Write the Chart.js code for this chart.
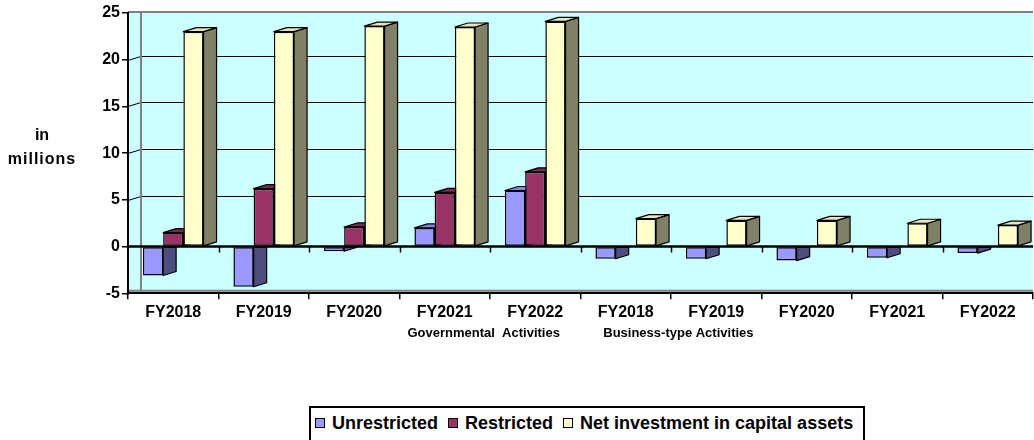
<!DOCTYPE html>
<html>
<head>
<meta charset="utf-8">
<script src="https://cdn.jsdelivr.net/npm/chart.js@4.4.1/dist/chart.umd.min.js"></script>
<style>
  html, body { margin: 0; padding: 0; background: #fff; }
  #wrap { position: relative; width: 1034px; height: 440px; overflow: hidden; font-family: "Liberation Sans", Arial, sans-serif; }
  #chart { position: absolute; left: 0; top: 0; }
  #legend { position: absolute; left: 309px; top: 406px; width: 556px; height: 50px; box-sizing: border-box;
            border: 2px solid #000; background: #fff; display: flex; align-items: flex-start; }
  .item { display: flex; align-items: center; height: 30px; margin-left: 4px; margin-right: 6px; }
  .sw { width: 10px; height: 10px; box-sizing: border-box; border: 1.5px solid #000; margin-right: 7px; }
  .lbl { font-weight: bold; font-size: 18px; color: #000; white-space: nowrap; }
</style>
</head>
<body>
<div id="wrap">
  <canvas id="chart" width="1034" height="440"></canvas>
  <div id="legend"></div>
</div>
<script>
// ---- data ----
const categories = ['FY2018','FY2019','FY2020','FY2021','FY2022','FY2018','FY2019','FY2020','FY2021','FY2022'];
const unrestricted = [-3.1, -4.3, -0.5, 2.0, 6.0, -1.3, -1.3, -1.5, -1.2, -0.7];
const restricted = [1.5, 6.2, 2.1, 5.8, 8.0, 0, 0, 0, 0, 0];
const netInvestment = [23.0, 23.0, 23.6, 23.5, 24.1, 3.0, 2.8, 2.8, 2.5, 2.3];
const seriesNames = ['Unrestricted', 'Restricted', 'Net investment in capital assets'];
const yTicks = [-5, 0, 5, 10, 15, 20, 25];
const groupTitle = 'Governmental  Activities            Business-type Activities';
const yTitleLines = ['in', 'millions'];

// ---- styles ----
const FONT = '"Liberation Sans", Arial, sans-serif';
const frontColors = ['#9999FF', '#993366', '#FFFFCC'];
const sideColors = ['#4D4D80', '#4D1A33', '#808066'];
const topColors = ['#8585E0', '#7A2952', '#E6E6BC'];
const DX = 13, DY = 4;

const seriesValues = [unrestricted, restricted, netInvestment];

const wallPlugin = {
  id: 'wall3d',
  beforeDraw(chart) {
    const { ctx, chartArea: a, scales: { y } } = chart;
    ctx.save();
    ctx.fillStyle = '#CCFFFF';
    ctx.fillRect(a.left, a.top - 2, a.right - a.left, a.bottom - a.top + 2);
    // back-wall grid lines
    ctx.strokeStyle = '#000';
    ctx.lineWidth = 1;
    y.ticks.forEach(t => {
      if (t.value <= y.min || t.value >= y.max || t.value === 0) return;
      const py = Math.round(y.getPixelForValue(t.value)) + 0.5;
      ctx.beginPath();
      ctx.moveTo(a.left, py);
      ctx.lineTo(a.left + DX, py - DY);
      ctx.lineTo(a.right, py - DY);
      ctx.stroke();
    });
    // wall outline
    ctx.strokeStyle = '#808080';
    ctx.lineWidth = 2;
    ctx.beginPath();
    ctx.moveTo(a.left, a.top - 1);
    ctx.lineTo(a.right, a.top - 1);
    ctx.moveTo(a.left + DX, a.top - 1);
    ctx.lineTo(a.left + DX, a.bottom - 2);
    ctx.moveTo(a.left, a.bottom - 2.5);
    ctx.lineTo(a.right, a.bottom - 2.5);
    ctx.stroke();
    ctx.restore();
  },
  beforeDatasetsDraw(chart) {
    const { ctx } = chart;
    ctx.save();
    ctx.lineWidth = 1.2;
    ctx.strokeStyle = '#000';
    ctx.lineJoin = 'round';
    chart.data.datasets.forEach((ds, di) => {
      const meta = chart.getDatasetMeta(di);
      meta.data.forEach((el, i) => {
        const v = ds.data[i];
        if (Math.abs(v) < 1e-9) return;
        const p = el.getProps(['x', 'y', 'base', 'width'], true);
        const left = p.x - p.width / 2, right = p.x + p.width / 2;
        const top = Math.min(p.y, p.base), bottom = Math.max(p.y, p.base);
        // side face
        ctx.fillStyle = sideColors[di];
        ctx.beginPath();
        if (v > 0) {
          ctx.moveTo(right, top);
          ctx.lineTo(right + DX, top - DY);
          ctx.lineTo(right + DX, bottom - DY);
          ctx.lineTo(right, bottom);
        } else {
          ctx.moveTo(right, top);
          ctx.lineTo(right + DX, top);
          ctx.lineTo(right + DX, bottom - DY);
          ctx.lineTo(right, bottom);
        }
        ctx.closePath();
        ctx.fill();
        ctx.stroke();
        // top face
        if (v > 0) {
          ctx.fillStyle = topColors[di];
          ctx.beginPath();
          ctx.moveTo(left, top);
          ctx.lineTo(left + DX, top - DY);
          ctx.lineTo(right + DX, top - DY);
          ctx.lineTo(right, top);
          ctx.closePath();
          ctx.fill();
          ctx.stroke();
        }
      });
    });
    ctx.restore();
  },
  afterDatasetsDraw(chart) {
    const { ctx, chartArea: a, scales: { x, y } } = chart;
    const y0 = y.getPixelForValue(0);
    ctx.save();
    ctx.strokeStyle = '#000';
    ctx.lineWidth = 2.5;
    ctx.beginPath();
    ctx.moveTo(a.left, y0);
    ctx.lineTo(a.right, y0);
    ctx.stroke();
    const half = (x.getPixelForValue(1) - x.getPixelForValue(0)) / 2;
    ctx.lineWidth = 1.5;
    ctx.beginPath();
    for (let i = 1; i < categories.length; i++) {
      const bx = Math.round(x.getPixelForValue(i) - half) + 0.5;
      ctx.moveTo(bx, y0);
      ctx.lineTo(bx, y0 + 6);
    }
    ctx.stroke();
    ctx.restore();
  },
  afterDraw(chart) {
    const { ctx } = chart;
    ctx.save();
    ctx.fillStyle = '#000';
    ctx.font = 'bold 16px ' + FONT;
    ctx.textAlign = 'center';
    ctx.textBaseline = 'middle';
    ctx.fillText(yTitleLines[0], 42, 136);
    if ('letterSpacing' in ctx) ctx.letterSpacing = '1px';
    ctx.fillText(yTitleLines[1], 42, 160);
    ctx.restore();
  }
};

const chart = new Chart(document.getElementById('chart'), {
  type: 'bar',
  data: {
    labels: categories,
    datasets: seriesNames.map((name, i) => ({
      label: name,
      data: seriesValues[i],
      backgroundColor: frontColors[i],
      borderColor: '#000',
      borderWidth: 1.5,
      borderSkipped: false
    }))
  },
  options: {
    responsive: false,
    animation: false,
    devicePixelRatio: 1,
    layout: { padding: { left: 78, right: 1, top: 13, bottom: 0 } },
    plugins: { legend: { display: false }, tooltip: { enabled: false } },
    datasets: { bar: { categoryPercentage: 0.67, barPercentage: 1.0 } },
    scales: {
      x: {
        grid: { offset: true, drawOnChartArea: false, drawTicks: true, tickLength: 6, color: '#000', lineWidth: 1.5 },
        border: { display: true, color: '#000', width: 2 },
        ticks: { color: '#000', font: { family: FONT, size: 16, weight: 'bold' }, padding: 4, maxRotation: 0, autoSkip: false },
        title: { display: true, text: groupTitle, color: '#000', font: { family: FONT, size: 13, weight: 'bold' }, padding: { top: 0, bottom: 99 } },
        afterFit(s) { s.height = 146.7; }
      },
      y: {
        min: -5, max: 25,
        afterBuildTicks(s) { s.ticks = yTicks.map(v => ({ value: v })); },
        ticks: { color: '#000', font: { family: FONT, size: 16, weight: 'bold' }, padding: 2 },
        grid: { drawOnChartArea: false, drawTicks: true, tickLength: 6, color: '#000', lineWidth: 1.5 },
        border: { display: true, color: '#000', width: 2 },
        afterFit(s) { s.width = 50; }
      }
    }
  },
  plugins: [wallPlugin]
});

// HTML legend built from the chart's datasets
const legendEl = document.getElementById('legend');
chart.data.datasets.forEach(ds => {
  const item = document.createElement('div');
  item.className = 'item';
  const sw = document.createElement('span');
  sw.className = 'sw';
  sw.style.background = ds.backgroundColor;
  const lbl = document.createElement('span');
  lbl.className = 'lbl';
  lbl.textContent = ds.label;
  item.appendChild(sw);
  item.appendChild(lbl);
  legendEl.appendChild(item);
});
</script>
</body>
</html>
